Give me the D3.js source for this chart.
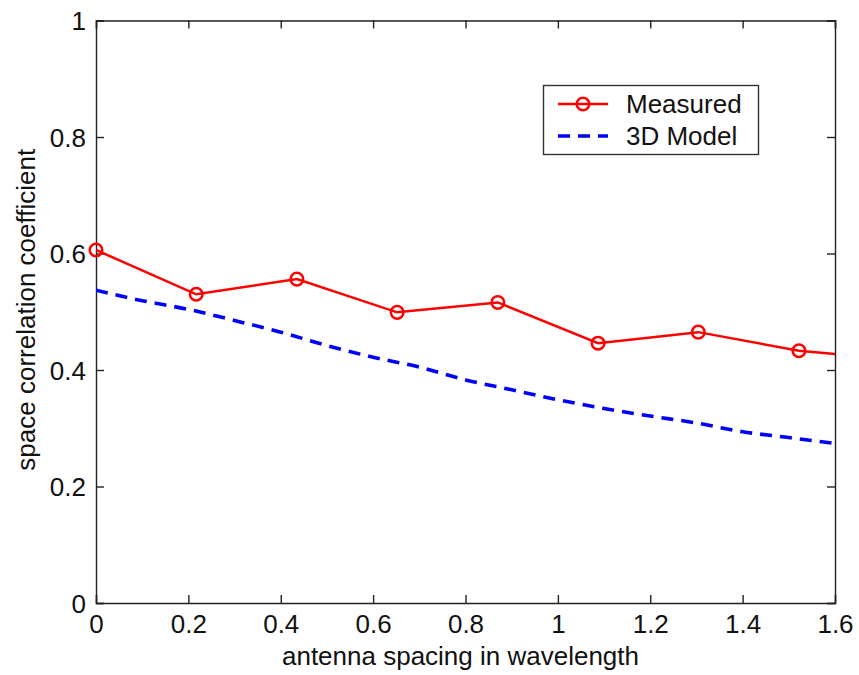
<!DOCTYPE html>
<html>
<head>
<meta charset="utf-8">
<script src="https://cdn.jsdelivr.net/npm/d3@7"></script>
<style>
  html, body { margin: 0; padding: 0; background: #fff; }
  svg text { font-family: Arial, "Liberation Sans", sans-serif; fill: #111; }
</style>
</head>
<body>
<svg id="chart" width="859" height="675"></svg>
<script>
// Antenna spacing (in wavelengths) and measured correlation
const measuredSpacing = [0, 0.217, 0.435, 0.652, 0.870, 1.087, 1.304, 1.522, 1.739];
const measuredCorr    = [0.606, 0.530, 0.556, 0.499, 0.516, 0.446, 0.465, 0.433, 0.418];

// 3D model prediction
const modelSpacing = [0, 0.1, 0.2, 0.3, 0.4, 0.5, 0.6, 0.7, 0.8, 0.9, 1.0, 1.1, 1.2, 1.3, 1.4, 1.5, 1.6];
const modelCorr    = [0.537, 0.519, 0.504, 0.485, 0.465, 0.442, 0.422, 0.405, 0.383, 0.366, 0.349, 0.334, 0.321, 0.309, 0.294, 0.284, 0.274];

const xTicks = [0, 0.2, 0.4, 0.6, 0.8, 1, 1.2, 1.4, 1.6];
const yTicks = [0, 0.2, 0.4, 0.6, 0.8, 1];

const seriesNames = ["Measured", "3D Model"];

const svg = d3.select("#chart");
const plotLeft = 96, plotRight = 835, plotTop = 20.5, plotBottom = 603;
const fontSize = 26;

const x = d3.scaleLinear().domain([0, 1.6]).range([plotLeft, plotRight]);
const y = d3.scaleLinear().domain([0, 1]).range([plotBottom, plotTop]);

svg.append("defs").append("clipPath").attr("id", "plotClip")
  .append("rect").attr("x", plotLeft).attr("y", plotTop)
  .attr("width", plotRight - plotLeft).attr("height", plotBottom - plotTop);

// Axes with inward ticks on all four sides
const tickLen = 8;
const fmt = d => d3.format("~g")(d);

const gx = svg.append("g").attr("transform", `translate(0,${plotBottom})`)
  .call(d3.axisBottom(x).tickValues(xTicks).tickSize(-tickLen).tickPadding(12).tickFormat(fmt));
const gxTop = svg.append("g").attr("transform", `translate(0,${plotTop})`)
  .call(d3.axisTop(x).tickValues(xTicks).tickSize(-tickLen).tickFormat(""));
const gy = svg.append("g").attr("transform", `translate(${plotLeft},0)`)
  .call(d3.axisLeft(y).tickValues(yTicks).tickSize(-tickLen).tickPadding(10).tickFormat(fmt));
const gyRight = svg.append("g").attr("transform", `translate(${plotRight},0)`)
  .call(d3.axisRight(y).tickValues(yTicks).tickSize(-tickLen).tickFormat(""));

[gx, gxTop, gy, gyRight].forEach(g => {
  g.select(".domain").attr("stroke", "#222").attr("stroke-width", 1.4);
  g.selectAll(".tick line").attr("stroke", "#222").attr("stroke-width", 1.4);
  g.selectAll(".tick text").attr("font-size", fontSize).attr("fill", "#111")
    .style("font-family", "Arial, 'Liberation Sans', sans-serif");
});
gx.selectAll(".tick text").attr("dy", "0.71em");
gy.selectAll(".tick text").attr("dy", "0.36em");

// Axis titles
svg.append("text")
  .attr("x", (plotLeft + plotRight) / 2 - 5).attr("y", 665)
  .attr("text-anchor", "middle").attr("font-size", fontSize)
  .text("antenna spacing in wavelength");

svg.append("text")
  .attr("transform", `translate(35,${(plotTop + plotBottom) / 2 - 2}) rotate(-90)`)
  .attr("text-anchor", "middle").attr("font-size", fontSize)
  .text("space correlation coefficient");

// Series
const measured = measuredSpacing.map((s, i) => ({ s, v: measuredCorr[i] }));
const model = modelSpacing.map((s, i) => ({ s, v: modelCorr[i] }));

svg.append("path").datum(model)
  .attr("clip-path", "url(#plotClip)")
  .attr("d", d3.line().x(d => x(d.s)).y(d => y(d.v)).curve(d3.curveMonotoneX))
  .attr("fill", "none").attr("stroke", "#0000ff")
  .attr("stroke-width", 3.6).attr("stroke-dasharray", "12,8");

svg.append("path").datum(measured)
  .attr("clip-path", "url(#plotClip)")
  .attr("d", d3.line().x(d => x(d.s)).y(d => y(d.v)))
  .attr("fill", "none").attr("stroke", "#ff0000").attr("stroke-width", 2.5);

svg.append("g").selectAll("circle")
  .data(measured.filter(d => d.s <= 1.6))
  .join("circle")
  .attr("cx", d => x(d.s)).attr("cy", d => y(d.v)).attr("r", 6.3)
  .attr("fill", "none").attr("stroke", "#ff0000").attr("stroke-width", 2.5);

// Legend
const lg = svg.append("g");
lg.append("rect").attr("x", 543.5).attr("y", 85.5).attr("width", 215).attr("height", 69)
  .attr("fill", "#fff").attr("stroke", "#333").attr("stroke-width", 1.4);

lg.append("line").attr("x1", 558).attr("x2", 608).attr("y1", 104).attr("y2", 104)
  .attr("stroke", "#ff0000").attr("stroke-width", 2.5);
lg.append("circle").attr("cx", 583).attr("cy", 104).attr("r", 6.3)
  .attr("fill", "none").attr("stroke", "#ff0000").attr("stroke-width", 2.5);
lg.append("text").attr("x", 626).attr("y", 104).attr("dy", "0.36em")
  .attr("font-size", fontSize).text(seriesNames[0]);

lg.append("line").attr("x1", 558).attr("x2", 608).attr("y1", 136).attr("y2", 136)
  .attr("stroke", "#0000ff").attr("stroke-width", 3.6).attr("stroke-dasharray", "12,8");
lg.append("text").attr("x", 626).attr("y", 136).attr("dy", "0.36em")
  .attr("font-size", fontSize).text(seriesNames[1]);
</script>
</body>
</html>
